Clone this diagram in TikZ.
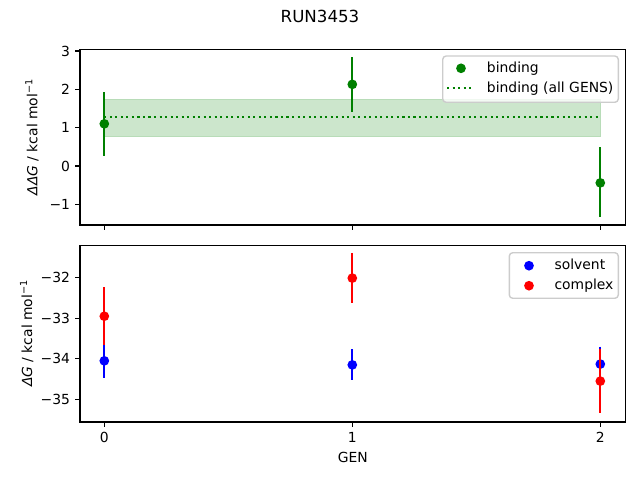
\documentclass[tikz,border=0pt]{standalone}
\usepackage{fontspec}
\setmainfont{DejaVu Sans}
\definecolor{mplgreen}{HTML}{008000}
\definecolor{bandfill}{HTML}{CCE6CC}
\definecolor{bandedge}{HTML}{B8DCB8}
\definecolor{mplblue}{HTML}{0000FF}
\definecolor{mplred}{HTML}{FF0000}
\definecolor{legedge}{HTML}{CCCCCC}
\tikzset{
  axframe/.style={draw=black,line width=0.8pt},
  tickmark/.style={draw=black,line width=0.8pt},
  ticklab/.style={inner sep=0pt,font=\fontsize{10}{12}\selectfont},
  errbar/.style={line width=1.5pt},
  dotmark/.style={circle,inner sep=0pt,minimum size=7pt},
  legbox/.style={draw=legedge,line width=1pt,fill=white,fill opacity=0.8,rounded corners=2.5pt},
  legtext/.style={inner sep=0pt,anchor=base west,font=\fontsize{10}{12}\selectfont},
  dotline/.style={line width=1.5pt,dash pattern=on 1.5pt off 2.475pt}
}
\begin{document}
\begin{tikzpicture}[x=0.72pt,y=-0.72pt]
\useasboundingbox (0,0) rectangle (640,480);
% ---------------- title ----------------
\node[inner sep=0pt,anchor=north,font=\fontsize{12}{14}\selectfont] (title) at (320,10) {RUN3453};

% ---------------- top axes ----------------
\begin{scope}[shift={(104.3,166)},x=178.56pt,y=27.6pt]
  \fill[bandfill] (0,0.77) rectangle (2,1.73);
  \draw[bandedge,line width=0.6pt] (0,0.77) rectangle (2,1.73);
  \draw[mplgreen,dotline] (0,1.27) -- (2,1.27);
  \draw[mplgreen,errbar] (0,0.27) -- (0,1.93);
  \node[dotmark,fill=mplgreen] (t0) at (0,1.10) {};
  \draw[mplgreen,errbar] (1,1.42) -- (1,2.84);
  \node[dotmark,fill=mplgreen] (t1) at (1,2.13) {};
  \draw[mplgreen,errbar] (2,-1.32) -- (2,0.49);
  \node[dotmark,fill=mplgreen] (t2) at (2,-0.44) {};
\end{scope}
\draw[axframe] (80,49.3) rectangle (625.7,225);
% y ticks top
\foreach \v/\lab in {3/3,2/2,1/1,0/0,-1/−1}{
  \draw[tickmark] (80,{166-38.33*\v}) -- (75.1,{166-38.33*\v});
  \node[ticklab,anchor=east] (tl\v) at (70.3,{166-38.33*\v}) {\lab};
}
% x ticks top
\foreach \g in {0,1,2}{
  \draw[tickmark] ({104.3+248*\g},225) -- ({104.3+248*\g},229.9);
}
\node[inner sep=0pt,anchor=south,rotate=90,font=\fontsize{10}{12}\selectfont] (ylabtop) at (39,137) {{\itshape ΔΔG} / kcal mol\textsuperscript{−1}};
% legend top
\draw[legbox] (442.7,56) rectangle (618.3,102.3);
\node[dotmark,fill=mplgreen] (lg1) at (461,68.3) {};
\node[legtext] (lgt1) at (486.7,72.3) {binding};
\draw[mplgreen,dotline] (447,87.7) -- (474,87.7);
\node[legtext] (lgt2) at (486.7,92.7) {binding (all GENS)};

% ---------------- bottom axes ----------------
\begin{scope}[shift={(104.3,-1019.9)},x=178.56pt,y=29.196pt]
  % solvent
  \draw[mplblue,errbar] (0,-33.63) -- (0,-34.47);
  \node[dotmark,fill=mplblue] (s0) at (0,-34.05) {};
  \draw[mplblue,errbar] (1,-33.77) -- (1,-34.53);
  \node[dotmark,fill=mplblue] (s1) at (1,-34.15) {};
  \draw[mplblue,errbar] (2,-33.70) -- (2,-34.56);
  \node[dotmark,fill=mplblue] (s2) at (2,-34.13) {};
  % complex
  \draw[mplred,errbar] (0,-32.24) -- (0,-33.66);
  \node[dotmark,fill=mplred] (c0) at (0,-32.95) {};
  \draw[mplred,errbar] (1,-31.39) -- (1,-32.62);
  \node[dotmark,fill=mplred] (c1) at (1,-32.01) {};
  \draw[mplred,errbar] (2,-33.76) -- (2,-35.34);
  \node[dotmark,fill=mplred] (c2) at (2,-34.55) {};
\end{scope}
\draw[axframe] (80,245.3) rectangle (625.7,422);
% y ticks bottom
\foreach \v/\lab in {32/−32,33/−33,34/−34,35/−35}{
  \draw[tickmark] (80,{277.7+40.55*(\v-32)}) -- (75.1,{277.7+40.55*(\v-32)});
  \node[ticklab,anchor=east] (bl\v) at (70.3,{277.7+40.55*(\v-32)}) {\lab};
}
% x ticks bottom
\foreach \g in {0,1,2}{
  \draw[tickmark] ({104.3+248*\g},422) -- ({104.3+248*\g},426.9);
  \node[ticklab,anchor=north] (xl\g) at ({104.3+248*\g},432.3) {\g};
}
\node[inner sep=0pt,anchor=north,font=\fontsize{10}{12}\selectfont] (xlab) at (352.8,451.5) {GEN};
\node[inner sep=0pt,anchor=south,rotate=90,font=\fontsize{10}{12}\selectfont] (ylabbot) at (33.7,333.3) {{\itshape ΔG} / kcal mol\textsuperscript{−1}};
% legend bottom
\draw[legbox] (509.3,252.7) rectangle (618.3,298.3);
\node[dotmark,fill=mplblue] (lb1) at (529,265.7) {};
\node[legtext] (lbt1) at (554.3,269) {solvent};
\node[dotmark,fill=mplred] (lb2) at (529,285.7) {};
\node[legtext] (lbt2) at (554.3,289.3) {complex};
\end{tikzpicture}
\end{document}
